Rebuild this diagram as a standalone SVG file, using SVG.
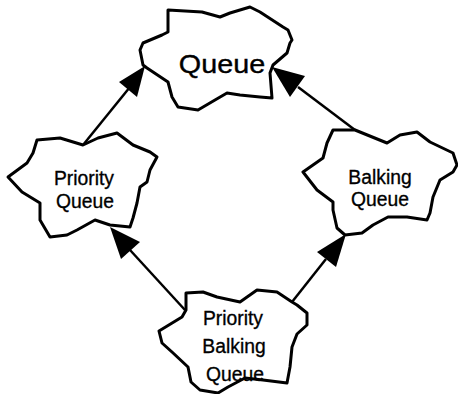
<svg xmlns="http://www.w3.org/2000/svg" width="458" height="394" viewBox="0 0 458 394">
<defs>
<style>
.cloud{fill:#fff;stroke:#000;stroke-width:3;stroke-linejoin:round}
.lbl{font-family:"Liberation Sans",Arial,sans-serif;fill:#000;stroke:#000;stroke-width:0.35;text-anchor:middle}
.sm{font-size:21px}
.edge{stroke:#000;stroke-width:2.5;fill:none}
.head{fill:#000;stroke:none}
</style>
</defs>
<rect width="458" height="394" fill="#fff"/>
<g id="connectors">
<line class="edge" x1="83" y1="145" x2="130" y2="87"/>
<polygon class="head" points="145,66 137,97 119,82"/>
<line class="edge" x1="355" y1="130" x2="298" y2="87"/>
<polygon class="head" points="272,67 305,76 290,97"/>
<line class="edge" x1="185" y1="310" x2="130" y2="250"/>
<polygon class="head" points="110,227 140,242 121,259"/>
<line class="edge" x1="292" y1="302" x2="326" y2="259"/>
<polygon class="head" points="346,234 336,267 317,252"/>
</g>
<g id="node-queue">
<path class="cloud" d="M168,10 L202,12 L220,17 L230,13 L250,7 L260,12 L283,27 L288,30 L292,40 L290,43 L287,53 L273,65 L270,73 L272,98 L260,97 L240,95 L227,93 L215,100 L198,110 L178,107 L172,97 L168,82 L147,68 L143,65 L140,50 L143,43 L162,35 L168,32 Z"/>
<text class="lbl" transform="translate(222,73) scale(1.15,1)" font-size="25">Queue</text>
</g>
<g id="node-priority-queue">
<path class="cloud" d="M37,140 L60,138 L83,145 L98,138 L117,133 L133,145 L150,152 L157,157 L150,170 L147,182 L140,187 L137,203 L133,218 L130,227 L110,225 L95,220 L77,230 L67,235 L50,237 L40,220 L40,203 L22,192 L8,177 L27,163 L33,153 Z"/>
<text class="lbl sm" transform="translate(84,185) scale(0.92,1)">Priority</text>
<text class="lbl sm" transform="translate(85,208) scale(0.92,1)">Queue</text>
</g>
<g id="node-balking-queue">
<path class="cloud" d="M333,130 L355,130 L387,143 L400,135 L417,132 L430,142 L453,153 L457,165 L453,172 L440,180 L433,197 L430,213 L427,220 L407,217 L388,217 L373,225 L362,233 L345,235 L337,228 L333,210 L333,202 L317,190 L303,172 L323,158 L327,143 Z"/>
<text class="lbl sm" transform="translate(380,184) scale(0.92,1)">Balking</text>
<text class="lbl sm" transform="translate(380,206) scale(0.92,1)">Queue</text>
</g>
<g id="node-priority-balking-queue">
<path class="cloud" d="M186,293 L203,292 L217,297 L240,302 L257,290 L277,292 L292,302 L297,305 L307,313 L307,325 L297,334 L292,347 L290,367 L287,383 L263,380 L245,378 L228,387 L218,393 L200,390 L191,382 L188,367 L172,352 L162,343 L159,331 L182,317 L186,310 Z"/>
<text class="lbl sm" transform="translate(233,325) scale(0.92,1)">Priority</text>
<text class="lbl sm" transform="translate(234,353) scale(0.92,1)">Balking</text>
<text class="lbl sm" transform="translate(235,381) scale(0.92,1)">Queue</text>
</g>
</svg>
